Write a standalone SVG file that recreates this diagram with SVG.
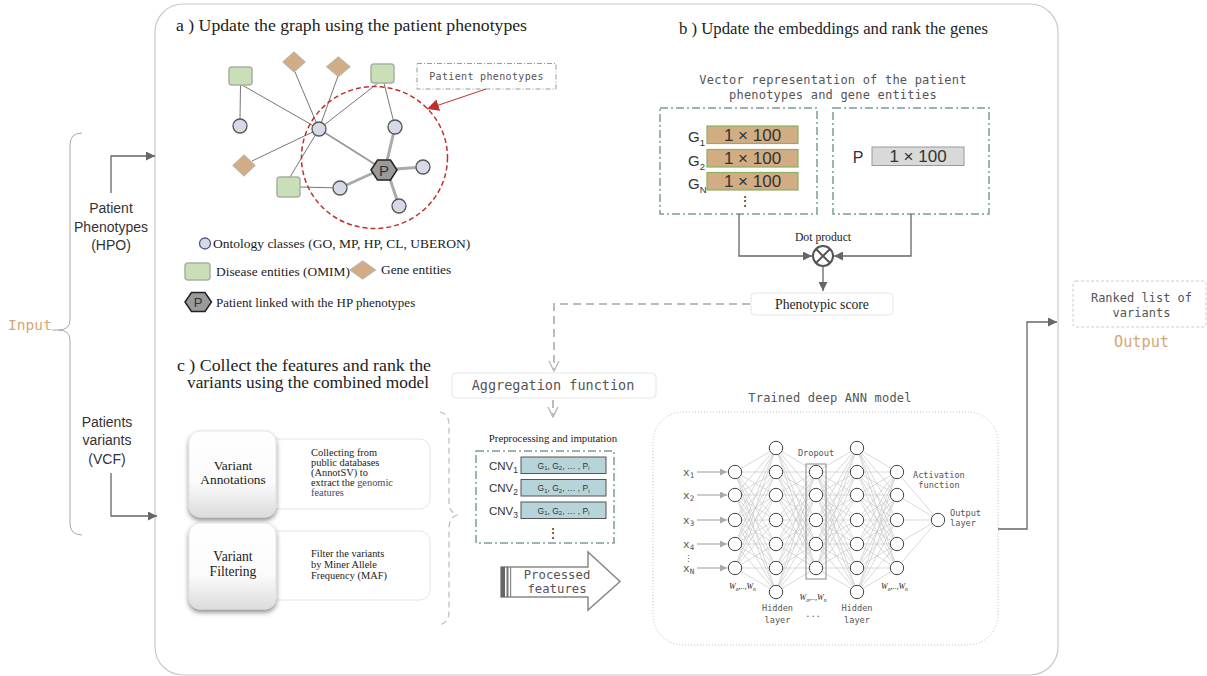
<svg xmlns="http://www.w3.org/2000/svg" width="1207" height="676" viewBox="0 0 1207 676">
<defs>
<style>
.serif{font-family:"Liberation Serif","Times New Roman",serif;fill:#222}
.mono{font-family:"DejaVu Sans Mono","Liberation Mono",monospace;fill:#555}
.sans{font-family:"Liberation Sans",Arial,sans-serif;fill:#333}
.thin{stroke:#777;stroke-width:1;fill:none}
.thick{stroke:#aaa;stroke-width:3;fill:none}
.sq{fill:#c9dfb8;stroke:#aab0a0;stroke-width:1.5}
.dia{fill:#d2ac83;stroke:#bdb5aa;stroke-width:1.2}
.onto{fill:#d5dae5;stroke:#555;stroke-width:1.3}
.hex{fill:#9a9a9a;stroke:#222;stroke-width:1.5}
.dd{fill:none;stroke:#7d9c9c;stroke-width:1.5;stroke-dasharray:8,3,2,3}
.gbar{fill:#d2ac83;stroke:#8ab060;stroke-width:1.2}
.cbar{fill:#b7d4da;stroke:#555;stroke-width:1}
.conn{stroke:#666;stroke-width:1.3;fill:none}
.dash{stroke:#bbb;stroke-width:2;fill:none;stroke-dasharray:8,5}
.ann{stroke:#c8c8c8;stroke-width:0.7;fill:none}
.n{fill:#fff;stroke:#444;stroke-width:1}
.soft{fill:#fff;stroke:#e6e6e6;stroke-width:1}
.orange{fill:#d6a676}
</style>
<marker id="ah" viewBox="0 0 10 10" refX="10" refY="5" markerWidth="9" markerHeight="9" markerUnits="userSpaceOnUse" orient="auto"><path d="M0,0L10,5L0,10z" fill="#666"/></marker>
<marker id="ahr" viewBox="0 0 10 10" refX="10" refY="5" markerWidth="12" markerHeight="12" markerUnits="userSpaceOnUse" orient="auto"><path d="M0,0L10,5L0,10z" fill="#c0302a"/></marker>
<marker id="av" viewBox="0 0 12 12" refX="11" refY="6" markerWidth="12" markerHeight="12" markerUnits="userSpaceOnUse" orient="auto"><path d="M1,1L11,6L1,11" fill="none" stroke="#bbb" stroke-width="1.5"/></marker>
<marker id="asm" viewBox="0 0 10 10" refX="10" refY="5" markerWidth="7" markerHeight="7" markerUnits="userSpaceOnUse" orient="auto"><path d="M0,0L10,5L0,10z" fill="#aaa"/></marker>
<linearGradient id="vg" x1="0" y1="0" x2="0" y2="1"><stop offset="0" stop-color="#ffffff"/><stop offset="0.6" stop-color="#fbfbfb"/><stop offset="1" stop-color="#dcdcdc"/></linearGradient>
<filter id="sh" x="-20%" y="-20%" width="140%" height="150%"><feDropShadow dx="0" dy="3" stdDeviation="2.5" flood-color="#000" flood-opacity="0.45"/></filter>
</defs>

<rect width="1207" height="676" fill="#fff"/>
<rect id="panel" x="155" y="4" width="903" height="671" rx="28" fill="#fff" stroke="#c8c8c8" stroke-width="1.2"/>

<!-- Input side -->
<g id="input">
<path d="M82,133Q70,133 70,145L70,320Q70,330 58,330Q70,330 70,340L70,523Q70,535 82,535" fill="none" stroke="#aaa" stroke-width="1"/>
<line x1="52" y1="330" x2="58" y2="330" stroke="#aaa"/>
<text x="8" y="330" class="mono orange" font-size="14.6">Input</text>
</g>
<g id="phen-input" class="sans" font-size="14" text-anchor="middle">
<text x="111" y="213">Patient</text>
<text x="111" y="231.5">Phenotypes</text>
<text x="111" y="250">(HPO)</text>
</g>
<g id="var-input" class="sans" font-size="14" text-anchor="middle">
<text x="107" y="427">Patients</text>
<text x="107" y="445">variants</text>
<text x="107" y="463.5">(VCF)</text>
</g>

<!-- Panel a -->
<text x="176" y="31" class="serif" font-size="17.7" textLength="351" lengthAdjust="spacingAndGlyphs">a ) Update the graph using the patient phenotypes</text>
<g id="graph-edges">
<line class="thin" x1="240.5" y1="85" x2="240" y2="119"/>
<line class="thin" x1="242" y1="85" x2="319" y2="129"/>
<line class="thin" x1="295" y1="72" x2="319" y2="129"/>
<line class="thin" x1="338" y1="76" x2="319" y2="129"/>
<line class="thin" x1="378" y1="83" x2="319" y2="129"/>
<line class="thin" x1="319" y1="129" x2="252" y2="161"/>
<line class="thin" x1="319" y1="129" x2="290" y2="177"/>
<line class="thin" x1="384" y1="83" x2="395" y2="127"/>
<line class="thin" x1="300" y1="187" x2="340" y2="188"/>
<line x1="319" y1="129" x2="384" y2="170" stroke="#999" stroke-width="1.8"/>
<line class="thick" x1="387" y1="161" x2="395" y2="127"/>
<line class="thick" x1="396" y1="169" x2="423" y2="167"/>
<line class="thick" x1="390" y1="179" x2="399" y2="206"/>
<line class="thick" x1="373" y1="173" x2="340" y2="188"/>
</g>
<g id="n-sq1"><rect class="sq" x="229" y="67" width="23" height="18" rx="3"/></g>
<g id="n-sq2"><rect class="sq" x="371" y="64" width="23" height="19" rx="3"/></g>
<g id="n-sq3"><rect class="sq" x="277" y="177" width="23" height="20" rx="3"/></g>
<g id="n-d1"><path class="dia" d="M294,52L305,62L294,72L283,62z"/></g>
<g id="n-d2"><path class="dia" d="M338.3,57L350,66.7L338.3,76.5L326.7,66.7z"/></g>
<g id="n-d3"><path class="dia" d="M244,155L255,165.5L244,176L233,165.5z"/></g>
<g id="n-c1"><circle class="onto" cx="240" cy="126" r="7"/></g>
<g id="n-hub"><circle class="onto" cx="319" cy="129" r="7"/></g>
<g id="n-crt"><circle class="onto" cx="395" cy="127" r="7"/></g>
<g id="n-cr"><circle class="onto" cx="423" cy="167" r="7"/></g>
<g id="n-cbl"><circle class="onto" cx="340" cy="188" r="7"/></g>
<g id="n-cb"><circle class="onto" cx="399" cy="206" r="7"/></g>
<g id="n-p"><path class="hex" d="M371,170L377.5,160L390.5,160L397,170L390.5,180L377.5,180z"/><text x="384" y="175.5" class="sans" font-size="15" text-anchor="middle" fill="#111">P</text></g>
<ellipse id="phen-circle" cx="374.5" cy="157.5" rx="73" ry="71" fill="none" stroke="#c0302a" stroke-width="1.5" stroke-dasharray="5,3"/>
<g id="phen-label">
<rect x="417" y="63.5" width="139" height="25.5" fill="#fff" stroke="#999" stroke-width="1" stroke-dasharray="5,2,1,2"/>
<text x="486.5" y="80" class="mono" font-size="10" text-anchor="middle" letter-spacing="0.35">Patient phenotypes</text>
</g>
<line x1="486" y1="89" x2="427" y2="109" stroke="#c0302a" stroke-width="1" marker-end="url(#ahr)"/>

<g id="legend" class="serif" font-size="13">
<circle cx="205" cy="243.5" r="5.5" fill="#d5dae5" stroke="#4a5a8a" stroke-width="1.3"/>
<text x="213" y="248" font-size="13.5">Ontology classes (GO, MP, HP, CL, UBERON)</text>
<rect class="sq" x="185" y="263" width="25" height="17" rx="3"/>
<text x="216" y="276" font-size="13.4">Disease entities (OMIM)</text>
<path class="dia" d="M362.7,261L375.5,270L362.7,279L350,270z"/>
<text x="381" y="274" font-size="13.4">Gene entities</text>
<path class="hex" d="M185,302L191.5,292.5L205,292.5L211.5,302L205,311.5L191.5,311.5z"/>
<text x="198.2" y="307" class="sans" font-size="13" text-anchor="middle" fill="#111">P</text>
<text x="216" y="307">Patient linked with the HP phenotypes</text>
</g>

<!-- Panel b -->
<text x="679" y="34" class="serif" font-size="17" textLength="309" lengthAdjust="spacingAndGlyphs">b ) Update the embeddings and rank the genes</text>
<g class="mono" font-size="12" text-anchor="middle">
<text x="833" y="84" letter-spacing="0.2">Vector representation of the patient</text>
<text x="833" y="98.5" letter-spacing="0.2">phenotypes and gene entities</text>
</g>
<g id="gene-box">
<rect class="dd" x="660" y="108" width="157" height="106"/>
<rect class="gbar" x="707" y="126" width="91" height="17.5"/>
<rect class="gbar" x="707" y="149.5" width="91" height="17.5"/>
<rect class="gbar" x="707" y="172.5" width="91" height="17.5"/>
<g class="sans" font-size="17" text-anchor="middle" fill="#222">
<text x="752.5" y="140.5">1 × 100</text>
<text x="752.5" y="164">1 × 100</text>
<text x="752.5" y="187">1 × 100</text>
</g>
<g class="sans" fill="#111" font-size="15">
<text x="688" y="142">G<tspan font-size="9.5" dy="4">1</tspan></text>
<text x="688" y="166">G<tspan font-size="9.5" dy="4">2</tspan></text>
<text x="688" y="189">G<tspan font-size="9.5" dy="4">N</tspan></text>
<text x="745" y="206" font-size="14" text-anchor="middle">⋮</text>
</g>
</g>
<g id="patient-box">
<rect class="dd" x="833" y="108" width="156" height="106"/>
<rect x="872" y="147" width="92" height="18.5" fill="#d9d9d9" stroke="#999" stroke-width="1"/>
<text x="918" y="162" class="sans" font-size="17" text-anchor="middle" fill="#222">1 × 100</text>
<text x="858" y="162.5" class="sans" font-size="16" text-anchor="middle" fill="#111">P</text>
</g>
<g id="dot-product">
<circle cx="823" cy="256" r="10" fill="#fff" stroke="#555" stroke-width="2"/>
<path d="M816,249L830,263M830,249L816,263" stroke="#555" stroke-width="2"/>
<text x="823" y="241" class="serif" font-size="11.7" text-anchor="middle">Dot product</text>
</g>
<g id="pheno-score">
<rect class="soft" x="751" y="293" width="142" height="22" rx="4"/>
<text x="822" y="308.5" class="serif" font-size="13.7" text-anchor="middle" fill="#333">Phenotypic score</text>
</g>

<!-- Panel c -->
<g class="serif" font-size="16.6">
<text x="177" y="371" textLength="254" lengthAdjust="spacingAndGlyphs">c ) Collect the features and rank the</text>
<text x="187" y="388" textLength="242" lengthAdjust="spacingAndGlyphs">variants using the combined model</text>
</g>
<g id="annot-desc">
<rect class="soft" x="255" y="439" width="175" height="70" rx="10"/>
<g class="serif" font-size="10.4" fill="#555">
<text x="311" y="456">Collecting from</text>
<text x="311" y="466">public databases</text>
<text x="311" y="476">(AnnotSV)  to</text>
<text x="311" y="486">extract the <tspan fill="#3b4b6b">genomic</tspan></text>
<text x="311" y="496" fill="#3b4b6b">features</text>
</g>
</g>
<g id="filter-desc">
<rect class="soft" x="255" y="531" width="175" height="69" rx="10"/>
<g class="serif" font-size="10.4" fill="#555">
<text x="311" y="556.5">Filter the variants</text>
<text x="311" y="567.5">by Miner Allele</text>
<text x="311" y="578.5">Frequency (MAF)</text>
</g>
</g>
<g id="variant-annotations">
<rect x="189" y="431" width="87" height="86" rx="11" fill="url(#vg)" stroke="#ddd" stroke-width="0.8" filter="url(#sh)"/>
<g class="serif" font-size="13.4" text-anchor="middle" fill="#2d3a55">
<text x="233" y="470">Variant</text>
<text x="233" y="483.5">Annotations</text>
</g>
</g>
<g id="variant-filtering">
<rect x="189" y="523" width="87" height="86" rx="11" fill="url(#vg)" stroke="#ddd" stroke-width="0.8" filter="url(#sh)"/>
<g class="serif" font-size="13.6" text-anchor="middle" fill="#2d3a55">
<text x="233" y="561">Variant</text>
<text x="233" y="576">Filtering</text>
</g>
</g>
<path d="M440,412Q449,414 449,425L449,502Q449,512 457,515Q449,518 449,528L449,612Q449,622 440,625" fill="none" stroke="#bbb" stroke-width="1.2" stroke-dasharray="6,4"/>

<g id="aggregation">
<rect class="soft" x="452" y="373" width="204" height="25" rx="4"/>
<text x="553" y="389.5" class="mono" font-size="13.5" text-anchor="middle" fill="#333">Aggregation function</text>
</g>
<text x="553" y="442" class="serif" font-size="10.8" text-anchor="middle" fill="#333">Preprocessing and imputation</text>
<g id="cnv-box">
<rect class="dd" x="476" y="451" width="138" height="92"/>
<rect class="cbar" x="521" y="457" width="85" height="16.5"/>
<rect class="cbar" x="521" y="479.5" width="85" height="16.5"/>
<rect class="cbar" x="521" y="502" width="85" height="16.5"/>
<g class="sans" font-size="8.5" text-anchor="middle" fill="#222">
<text x="563.5" y="468.5">G<tspan font-size="6" dy="1.5">1</tspan><tspan dy="-1.5">, G</tspan><tspan font-size="6" dy="1.5">2</tspan><tspan dy="-1.5">, … , P</tspan><tspan font-size="6" dy="1.5">i</tspan></text>
<text x="563.5" y="491">G<tspan font-size="6" dy="1.5">1</tspan><tspan dy="-1.5">, G</tspan><tspan font-size="6" dy="1.5">2</tspan><tspan dy="-1.5">, … , P</tspan><tspan font-size="6" dy="1.5">i</tspan></text>
<text x="563.5" y="513.5">G<tspan font-size="6" dy="1.5">1</tspan><tspan dy="-1.5">, G</tspan><tspan font-size="6" dy="1.5">2</tspan><tspan dy="-1.5">, … , P</tspan><tspan font-size="6" dy="1.5">i</tspan></text>
</g>
<g class="sans" font-size="11.5" fill="#333">
<text x="489" y="469.5">CNV<tspan font-size="8.5" dy="3">1</tspan></text>
<text x="489" y="492">CNV<tspan font-size="8.5" dy="3">2</tspan></text>
<text x="489" y="514.5">CNV<tspan font-size="8.5" dy="3">3</tspan></text>
</g>
<text x="553" y="538" class="sans" font-size="14" text-anchor="middle" fill="#111">⋮</text>
</g>
<g id="processed">
<path d="M501,567L588,567L588,552L620,581.5L588,610L588,597L501,597z" fill="#fff" stroke="#888" stroke-width="1.5"/>
<rect x="501" y="567" width="4" height="30" fill="#666"/>
<rect x="506.5" y="567" width="2" height="30" fill="#777"/>
<rect x="510" y="567" width="1.2" height="30" fill="#888"/>
<g class="mono" font-size="12.3" text-anchor="middle" fill="#444">
<text x="557" y="578.5">Processed</text>
<text x="557" y="593">features</text>
</g>
</g>

<!-- ANN -->
<text x="830" y="402" class="mono" font-size="12" text-anchor="middle" letter-spacing="0.2">Trained deep ANN model</text>
<rect id="ann-box" x="653" y="412" width="345" height="233" rx="30" fill="none" stroke="#c0c0c0" stroke-width="1" stroke-dasharray="1,2"/>
<g id="ann-edges" class="ann">
<path d="M776,448L735,472L776,472M776,495L735,472L776,520M776,544L735,472L776,568M776,592L735,472"/>
<path d="M776,448L735,495L776,472M776,495L735,495L776,520M776,544L735,495L776,568M776,592L735,495"/>
<path d="M776,448L735,520L776,472M776,495L735,520L776,520M776,544L735,520L776,568M776,592L735,520"/>
<path d="M776,448L735,544L776,472M776,495L735,544L776,520M776,544L735,544L776,568M776,592L735,544"/>
<path d="M776,448L735,568L776,472M776,495L735,568L776,520M776,544L735,568L776,568M776,592L735,568"/>
<path d="M776,448L816,472L776,472M776,495L816,472L776,520M776,544L816,472L776,568M776,592L816,472"/>
<path d="M776,448L816,495L776,472M776,495L816,495L776,520M776,544L816,495L776,568M776,592L816,495"/>
<path d="M776,448L816,520L776,472M776,495L816,520L776,520M776,544L816,520L776,568M776,592L816,520"/>
<path d="M776,448L816,544L776,472M776,495L816,544L776,520M776,544L816,544L776,568M776,592L816,544"/>
<path d="M776,448L816,568L776,472M776,495L816,568L776,520M776,544L816,568L776,568M776,592L816,568"/>
<path d="M857,448L816,472L857,472M857,495L816,472L857,520M857,544L816,472L857,568M857,592L816,472"/>
<path d="M857,448L816,495L857,472M857,495L816,495L857,520M857,544L816,495L857,568M857,592L816,495"/>
<path d="M857,448L816,520L857,472M857,495L816,520L857,520M857,544L816,520L857,568M857,592L816,520"/>
<path d="M857,448L816,544L857,472M857,495L816,544L857,520M857,544L816,544L857,568M857,592L816,544"/>
<path d="M857,448L816,568L857,472M857,495L816,568L857,520M857,544L816,568L857,568M857,592L816,568"/>
<path d="M857,448L897,472L857,472M857,495L897,472L857,520M857,544L897,472L857,568M857,592L897,472"/>
<path d="M857,448L897,495L857,472M857,495L897,495L857,520M857,544L897,495L857,568M857,592L897,495"/>
<path d="M857,448L897,520L857,472M857,495L897,520L857,520M857,544L897,520L857,568M857,592L897,520"/>
<path d="M857,448L897,544L857,472M857,495L897,544L857,520M857,544L897,544L857,568M857,592L897,544"/>
<path d="M857,448L897,568L857,472M857,495L897,568L857,520M857,544L897,568L857,568M857,592L897,568"/>
<path d="M897,472L938,520L897,495M897,520L938,520L897,544M897,568L938,520"/>
</g>
<g id="ann-inputs" stroke="#aaa" stroke-width="1.2">
<line x1="697" y1="472" x2="727" y2="472" marker-end="url(#asm)"/>
<line x1="697" y1="495" x2="727" y2="495" marker-end="url(#asm)"/>
<line x1="697" y1="520" x2="727" y2="520" marker-end="url(#asm)"/>
<line x1="697" y1="544" x2="727" y2="544" marker-end="url(#asm)"/>
<line x1="697" y1="568" x2="727" y2="568" marker-end="url(#asm)"/>
</g>
<g class="mono" font-size="11" fill="#444">
<text x="683" y="476">x<tspan font-size="7.5" dy="2">1</tspan></text>
<text x="683" y="499">x<tspan font-size="7.5" dy="2">2</tspan></text>
<text x="683" y="524">x<tspan font-size="7.5" dy="2">3</tspan></text>
<text x="683" y="548">x<tspan font-size="7.5" dy="2">4</tspan></text>
<text x="683" y="572">x<tspan font-size="7.5" dy="2">N</tspan></text>
<text x="684" y="562" font-size="9">⋮</text>
</g>
<rect id="dropout-box" x="806" y="464" width="20" height="115" fill="none" stroke="#888" stroke-width="1"/>
<g id="ann-nodes">
<circle class="n" cx="735" cy="472" r="6.7"/><circle class="n" cx="735" cy="495" r="6.7"/><circle class="n" cx="735" cy="520" r="6.7"/><circle class="n" cx="735" cy="544" r="6.7"/><circle class="n" cx="735" cy="568" r="6.7"/>
<circle class="n" cx="776" cy="448" r="6.7"/><circle class="n" cx="776" cy="472" r="6.7"/><circle class="n" cx="776" cy="495" r="6.7"/><circle class="n" cx="776" cy="520" r="6.7"/><circle class="n" cx="776" cy="544" r="6.7"/><circle class="n" cx="776" cy="568" r="6.7"/><circle class="n" cx="776" cy="592" r="6.7"/>
<circle class="n" cx="816" cy="472" r="6.7"/><circle class="n" cx="816" cy="495" r="6.7"/><circle class="n" cx="816" cy="520" r="6.7"/><circle class="n" cx="816" cy="544" r="6.7"/><circle class="n" cx="816" cy="568" r="6.7"/>
<circle class="n" cx="857" cy="448" r="6.7"/><circle class="n" cx="857" cy="472" r="6.7"/><circle class="n" cx="857" cy="495" r="6.7"/><circle class="n" cx="857" cy="520" r="6.7"/><circle class="n" cx="857" cy="544" r="6.7"/><circle class="n" cx="857" cy="568" r="6.7"/><circle class="n" cx="857" cy="592" r="6.7"/>
<circle class="n" cx="897" cy="472" r="6.7"/><circle class="n" cx="897" cy="495" r="6.7"/><circle class="n" cx="897" cy="520" r="6.7"/><circle class="n" cx="897" cy="544" r="6.7"/><circle class="n" cx="897" cy="568" r="6.7"/>
<circle class="n" cx="938" cy="520" r="6.7"/>
</g>
<g class="mono" font-size="8.6" fill="#555">
<text x="816" y="456" text-anchor="middle">Dropout</text>
<text x="913" y="477.5">Activation</text>
<text x="939" y="488" text-anchor="middle">function</text>
<text x="950" y="516">Output</text>
<text x="963" y="526" text-anchor="middle">layer</text>
<text x="777.5" y="611" text-anchor="middle">Hidden</text>
<text x="777.5" y="622.5" text-anchor="middle">layer</text>
<text x="857" y="611" text-anchor="middle">Hidden</text>
<text x="857" y="622.5" text-anchor="middle">layer</text>
<text x="813" y="617" text-anchor="middle">...</text>
</g>
<g class="serif" font-size="8" font-style="italic" fill="#777">
<text x="729" y="589">W<tspan font-size="5.5" dy="1.5">o</tspan><tspan dy="-1.5">,..,W</tspan><tspan font-size="5.5" dy="1.5">n</tspan></text>
<text x="813" y="600" text-anchor="middle">W<tspan font-size="5.5" dy="1.5">o</tspan><tspan dy="-1.5">,..,W</tspan><tspan font-size="5.5" dy="1.5">n</tspan></text>
<text x="881" y="589">W<tspan font-size="5.5" dy="1.5">o</tspan><tspan dy="-1.5">,..,W</tspan><tspan font-size="5.5" dy="1.5">n</tspan></text>
</g>

<!-- Output -->
<g id="output">
<rect x="1073" y="281" width="133" height="46" rx="3" fill="#fff" stroke="#ccc" stroke-width="1" stroke-dasharray="3,2"/>
<g class="mono" font-size="12" text-anchor="middle">
<text x="1141.5" y="302">Ranked list of</text>
<text x="1141.5" y="317">variants</text>
</g>
<text x="1141.5" y="346.5" class="mono orange" font-size="15.2" text-anchor="middle">Output</text>
</g>

<!-- Connectors -->
<g id="connectors">
<path d="M111,193V156H155" class="conn" stroke="#888" marker-end="url(#ah)"/>
<path d="M111,473V516H157" class="conn" stroke="#888" marker-end="url(#ah)"/>
<path d="M739,214V256H812" class="conn" marker-end="url(#ah)"/>
<path d="M911,214V256H834" class="conn" marker-end="url(#ah)"/>
<path d="M823,266V291" class="conn" marker-end="url(#ah)"/>
<path d="M750,304H554V371" class="dash" marker-end="url(#av)"/>
<path d="M553,400V417" class="dash" marker-end="url(#av)"/>
<path d="M998,529H1027V322H1057" class="conn" stroke="#777" marker-end="url(#ah)"/>
</g>
</svg>
